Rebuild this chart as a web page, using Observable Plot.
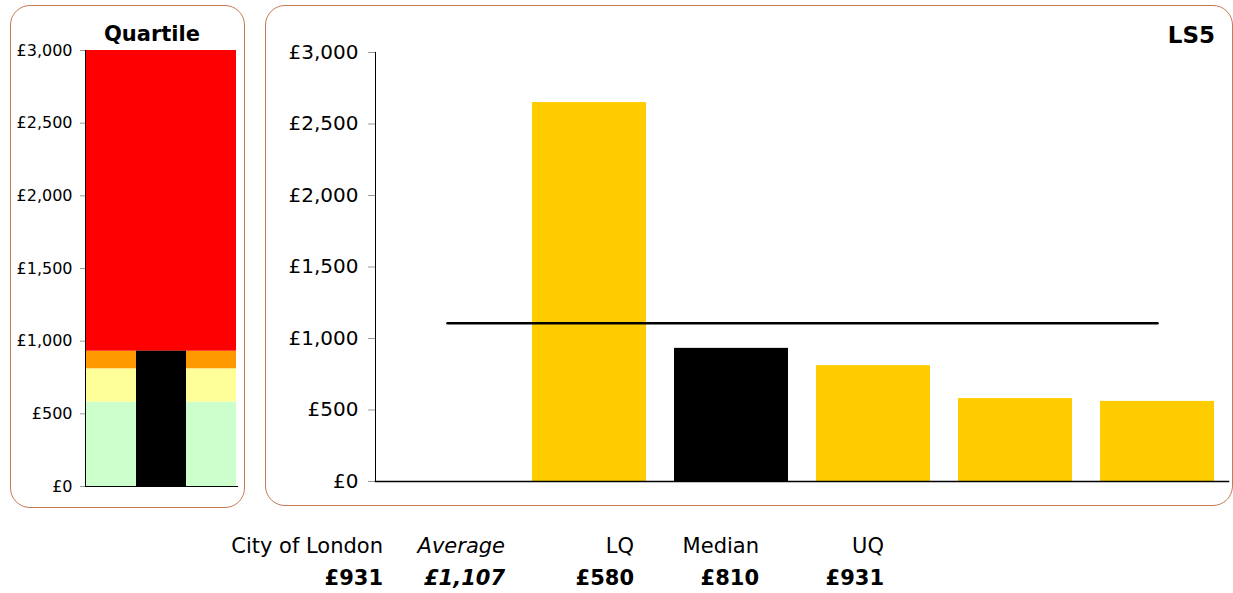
<!DOCTYPE html>
<html>
<head>
<meta charset="utf-8">
<script src="https://cdn.jsdelivr.net/npm/d3@7"></script>
<script src="https://cdn.jsdelivr.net/npm/@observablehq/plot@0.6"></script>
<style>
  html, body { margin: 0; padding: 0; background: #fff; }
  body { width: 1233px; height: 593px; position: relative; overflow: hidden; font-family: "DejaVu Sans", Verdana, sans-serif; color: #000; }
  .panel { position: absolute; border: 1.3px solid #c47a55; border-radius: 20px; box-sizing: border-box; }
  .chart { position: absolute; top: 0; }
  .title { position: absolute; font-weight: bold; white-space: nowrap; }
  .lab { position: absolute; font-size: 21px; white-space: nowrap; text-align: right; }
</style>
</head>
<body>
<div class="panel" style="left:10px;top:5px;width:235px;height:503px;"></div>
<div class="panel" style="left:265px;top:5px;width:968px;height:501px;"></div>
<div id="left" class="chart" style="left:0px;"></div>
<div id="right" class="chart" style="left:265px;"></div>
<div class="title" style="left:102px;top:22px;font-size:21px;width:100px;text-align:center;">Quartile</div>
<div class="title" style="right:18px;top:22px;font-size:23px;">LS5</div>
<div id="labels"></div>
<script>
// ---- data ----
const categories = ["c1", "c2", "c3", "c4", "c5", "c6"];
const values = [null, 2650, 931, 810, 580, 560];
const highlight = "c3";
const average = 1107;

const quartileBands = ["Below LQ", "LQ to Median", "Median to UQ", "Above UQ"];
const bandLow = [0, 580, 810, 931];
const bandHigh = [580, 810, 931, 3000];
const bandColors = ["#ccffcc", "#ffff99", "#ff9900", "#ff0000"];
const columns = ["left", "mid", "right"];
const areaValue = 931;

const yTicks = [0, 500, 1000, 1500, 2000, 2500, 3000];
const summaryLabels = ["City of London", "Average", "LQ", "Median", "UQ"];
const summaryValues = [931, 1107, 580, 810, 931];

const fmt = v => "£" + d3.format(",")(v);

// ---- left quartile chart ----
const bandRows = [];
columns.forEach(col => quartileBands.forEach((b, i) => bandRows.push({col, band: b, y1: bandLow[i], y2: bandHigh[i], fill: bandColors[i]})));

const left = Plot.plot({
  width: 245, height: 510,
  marginLeft: 85, marginRight: 8, marginTop: 50, marginBottom: 24,
  style: {fontFamily: "DejaVu Sans, Verdana, sans-serif", fontSize: "16px", background: "transparent"},
  x: {domain: columns, padding: 0, axis: null},
  y: {domain: [0, 3000], ticks: yTicks, tickFormat: fmt},
  marks: [
    Plot.barY(bandRows, {x: "col", y1: "y1", y2: "y2", fill: "fill", inset: 0}),
    Plot.barY([{col: "mid", v: areaValue}], {x: "col", y: "v", fill: "black", inset: 0}),
    Plot.axisY({ticks: yTicks, tickFormat: fmt, tickSize: 5, tickPadding: 8, stroke: "#999", fill: "black", fontSize: 16}),
    Plot.frame({anchor: "left", stroke: "black"}),
    Plot.frame({anchor: "bottom", stroke: "black"})
  ]
});
document.getElementById("left").appendChild(left);

// ---- right bar chart ----
const rows = categories.map((c, i) => ({c, v: values[i]}));
const right = Plot.plot({
  width: 968, height: 510,
  marginLeft: 110, marginRight: 5, marginTop: 52, marginBottom: 29,
  style: {fontFamily: "DejaVu Sans, Verdana, sans-serif", fontSize: "20px", background: "transparent"},
  x: {domain: categories, paddingInner: 0.2, paddingOuter: 0.1, axis: null},
  y: {domain: [0, 3000], ticks: yTicks, tickFormat: fmt},
  marks: [
    Plot.barY(rows.filter(d => d.v != null), {x: "c", y: "v", fill: d => d.c === highlight ? "black" : "#ffcc00", inset: 0}),
    Plot.lineY(categories.map(c => ({c, a: average})), {x: "c", y: "a", stroke: "black", strokeWidth: 2.5}),
    Plot.axisY({ticks: yTicks, tickFormat: fmt, tickSize: 7, tickPadding: 10, stroke: "#999", fill: "black", fontSize: 20}),
    Plot.frame({anchor: "left", stroke: "black"}),
    Plot.frame({anchor: "bottom", stroke: "black", strokeWidth: 1.5})
  ]
});
document.getElementById("right").appendChild(right);

// ---- summary labels below ----
const rightEdges = [383, 505, 634, 759, 884];
const holder = document.getElementById("labels");
summaryLabels.forEach((lab, i) => {
  const italic = lab === "Average";
  const a = document.createElement("div");
  a.className = "lab";
  a.style.right = (1233 - rightEdges[i]) + "px";
  a.style.top = "534px";
  a.style.fontStyle = italic ? "italic" : "normal";
  a.textContent = lab;
  holder.appendChild(a);
  const b = document.createElement("div");
  b.className = "lab";
  b.style.right = (1233 - rightEdges[i]) + "px";
  b.style.top = "566px";
  b.style.fontWeight = "bold";
  b.style.fontStyle = italic ? "italic" : "normal";
  b.textContent = fmt(summaryValues[i]);
  holder.appendChild(b);
});
</script>
</body>
</html>
